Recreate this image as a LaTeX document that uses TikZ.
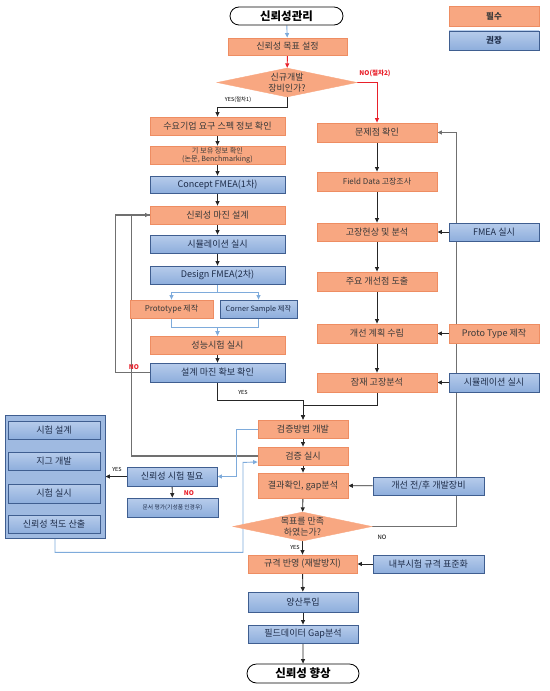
\documentclass[tikz,border=0pt]{standalone}
\usepackage{fontspec}
\setmainfont{Noto Sans CJK KR}
\usetikzlibrary{arrows.meta,shapes.geometric,shapes.misc,backgrounds,calc}
\definecolor{ofill}{HTML}{F8A781}
\definecolor{oline}{HTML}{EE8D62}
\definecolor{btop}{HTML}{B7CCEB}
\definecolor{bbot}{HTML}{8EAEDC}
\definecolor{bline}{HTML}{3F5E90}
\definecolor{lblue}{HTML}{7EABDB}
\definecolor{gline}{HTML}{707070}
\definecolor{nred}{HTML}{E8202A}
\definecolor{otext}{HTML}{3A3A3A}
\definecolor{btext}{HTML}{1E2D4A}
\begin{document}
\begin{tikzpicture}[x=1bp,y=-1bp,
  box/.style={rectangle,inner sep=0pt,align=center,font=\fontsize{9.1}{10}\selectfont,line width=0.8bp},
  sz/.style 2 args={minimum width=#1bp,minimum height=#2bp},
  ob/.style={box,fill=ofill,draw=oline,text=otext},
  bb/.style={box,top color=btop,bottom color=bbot,draw=bline,text=btext},
  dia/.style={diamond,inner sep=0pt,fill=ofill,draw=ofill,align=center,text=otext,font=\fontsize{9}{10.5}\selectfont,shape aspect=4.8},
  term/.style={rounded rectangle,draw=black,fill=white,line width=0.8bp,inner sep=0pt,font=\fontsize{11.5}{13}\selectfont\bfseries},
  arr/.style={-{Triangle[length=4.5bp,width=4bp]},line width=0.9bp,black!85},
  ln/.style={line width=0.9bp,black!85},
  garr/.style={-{Triangle[length=4.5bp,width=4bp]},line width=1.1bp,gline},
  gln/.style={line width=1.1bp,gline},
  rarr/.style={-{Triangle[length=4.5bp,width=4bp]},line width=0.9bp,nred},
  barr/.style={-{Triangle[length=4.5bp,width=4bp]},line width=0.9bp,lblue},
  small/.style={inner sep=0pt,font=\fontsize{5.5}{6}\selectfont},
  redlab/.style={small,text=nred,font=\fontsize{6.5}{7}\selectfont\bfseries}
]
\useasboundingbox (0,0) rectangle (550,691);
% legend
\node[ob,sz={90}{20},font=\fontsize{8.5}{10}\selectfont\bfseries] (leg1) at (494,16) {필수};
\node[bb,sz={90}{19},font=\fontsize{8.5}{10}\selectfont\bfseries] (leg2) at (494,40.5) {권장};
% top
\node[term,sz={113}{18}] (start) at (286.5,16) {신뢰성관리};
\node[ob,sz={119}{17}] (goal) at (287.5,46.5) {신뢰성 목표 설정};
\node[dia,sz={140}{29}] (d1) at (287,82.5) {신규개발\\장비인가?};
% left column
\node[ob,sz={135}{18}] (L1) at (217.5,126) {수요기업 요구 스펙 정보 확인};
\node[ob,sz={135}{18},font=\fontsize{7.2}{8}\selectfont] (L2) at (217.5,155) {기 보유 정보 확인\\(논문, Benchmarking)};
\node[bb,sz={135}{17}] (L3) at (217.5,184.5) {Concept FMEA(1차)};
\node[ob,sz={135}{18}] (L4) at (217.5,215) {신뢰성 마진 설계};
\node[bb,sz={135}{18}] (L5) at (217.5,244) {시뮬레이션 실시};
\node[bb,sz={135}{18}] (L6) at (217.5,275) {Design FMEA(2차)};
\node[ob,sz={83}{18},font=\fontsize{8}{9}\selectfont] (P) at (171.5,309) {Prototype 제작};
\node[bb,sz={77}{18},font=\fontsize{7.3}{9}\selectfont] (C) at (258.5,309) {Corner Sample 제작};
\node[ob,sz={135}{18}] (L7) at (217.5,345) {성능시험 실시};
\node[bb,sz={135}{19}] (L8) at (217.5,372.5) {설계 마진 확보 확인};
% right column
\node[ob,sz={120}{19}] (R1) at (377,132.5) {문제점 확인};
\node[ob,sz={120}{19},font=\fontsize{8}{9}\selectfont] (R2) at (377,181.5) {Field Data 고장조사};
\node[ob,sz={120}{18}] (R3) at (377,232) {고장현상 및 분석};
\node[ob,sz={120}{19}] (R4) at (377,281.5) {주요 개선점 도출};
\node[ob,sz={120}{19}] (R5) at (377,333.5) {개선 계획 수립};
\node[ob,sz={120}{19}] (R6) at (377,382.5) {잠재 고장분석};
\node[bb,sz={90}{18}] (S1) at (494,232) {FMEA 실시};
\node[ob,sz={90}{19}] (S2) at (494,333.5) {Proto Type 제작};
\node[bb,sz={90}{19}] (S3) at (494,382.5) {시뮬레이션 실시};
% middle bottom
\node[ob,sz={90}{18}] (M1) at (303,429) {검증방법 개발};
\node[ob,sz={90}{18}] (M2) at (303,456) {검증 실시};
\node[ob,sz={90}{25}] (M3) at (303,485.5) {결과확인, gap분석};
\node[dia,sz={139}{29}] (d2) at (302.5,526.5) {목표를 만족\\하였는가?};
\node[ob,sz={109}{18}] (M4) at (302.5,564) {규격 반영 (재발방지)};
\node[bb,sz={110}{20}] (M5) at (303,602) {양산투입};
\node[bb,sz={110}{18}] (M6) at (303,634) {필드데이터 Gap분석};
\node[term,sz={112}{19}] (end) at (303,673.5) {신뢰성 향상};
\node[bb,sz={111}{18}] (S4) at (428.5,486) {개선 전/후 개발장비};
\node[bb,sz={111}{18}] (S5) at (428.5,564) {내부시험 규격 표준화};
% left bottom group
\node[box,sz={100}{123},fill=bbot!85!white,draw=bline] (K) at (55,476.5) {};
\node[bb,sz={92}{18}] (K1) at (54,430) {시험 설계};
\node[bb,sz={92}{18}] (K2) at (54,461) {지그 개발};
\node[bb,sz={92}{19}] (K3) at (54,493.5) {시험 실시};
\node[bb,sz={92}{18}] (K4) at (54,524) {신뢰성 척도 산출};
\node[bb,sz={90}{19}] (T1) at (172,476.5) {신뢰성 시험 필요};
\node[bb,sz={91}{19},font=\fontsize{5.8}{7}\selectfont] (T2) at (172.5,507.5) {문서 평가(기성품 인경우)};
% labels
\node[redlab] (lno1) at (375,73) {NO(절차2)};
\node[small] (lyes1) at (238,99.5) {YES(절차1)};
\node[redlab] (lno2) at (134,367) {NO};
\node[small] (lyes2) at (243,392) {YES};
\node[small] (lyes3) at (117,469.5) {YES};
\node[redlab] (lno3) at (189,493) {NO};
\node[small,font=\fontsize{6}{7}\selectfont] (lno4) at (382,537) {NO};
\node[small] (lyes4) at (295,547.5) {YES};
% connectors
\begin{scope}[on background layer]
\draw[barr] (start) -- (goal);
\draw[rarr] (goal) -- (d1);
\draw[rarr] (d1.east) -| (R1.north);
\draw[arr] (d1.south) -- ++(0,10) -| (L1.north);
\draw[arr] (L1) -- (L2);
\draw[arr] (L2) -- (L3);
\draw[arr] (L3) -- (L4);
\draw[arr] (L4) -- (L5);
\draw[arr] (L5) -- (L6);
\draw[barr] (L6.south) -- ++(0,8) -| (P.north);
\draw[barr] (L6.south) -- ++(0,8) -| (C.north);
\draw[barr] (P.south) -- ++(0,9) -| (L7.north);
\draw[barr] (C.south) -- ++(0,9) -| (L7.north);
\draw[arr] (L7) -- (L8);
\draw[garr] (L8.west) -- ++(-34,0) |- (L4.west);
\draw[gln] (M2.west) -- ++(-126,0) |- (L4.west);
\draw[arr] (L8.south) -- ++(0,18.5) -| (M1.north);
\draw[arr] (R6.south) -- ++(0,13) -| (M1.north);
\draw[arr] (R1) -- (R2);
\draw[arr] (R2) -- (R3);
\draw[arr] (R3) -- (R4);
\draw[arr] (R4) -- (R5);
\draw[arr] (R5) -- (R6);
\draw[garr] (d2.east) -- ++(84,0) |- (R1.east);
\draw[arr] (S1) -- (R3);
\draw[arr] (S2) -- (R5);
\draw[arr] (S3) -- (R6);
\draw[arr] (M1) -- (M2);
\draw[arr] (M2) -- (M3);
\draw[arr] (M3) -- (d2);
\draw[arr] (d2) -- (M4);
\draw[arr] (M4) -- (M5);
\draw[arr] (M5) -- (M6);
\draw[arr] (M6) -- (end);
\draw[arr] (S4) -- (M3);
\draw[arr] (S5) -- (M4);
\draw[barr] (M1.west) -- ++(-21,0) |- (T1.east);
\draw[barr] (K.south) -- ++(0,14) -- ++(188,0) -- ++(0,-90) -- ($(M2.west)+(0,6)$);
\draw[arr] (T1.west) -- (K.east |- T1.west);
\draw[arr] (T1) -- (T2);
\draw[arr] (K1) -- (K2);
\draw[arr] (K2) -- (K3);
\draw[arr] (K3) -- (K4);
\end{scope}
\end{tikzpicture}
\end{document}
